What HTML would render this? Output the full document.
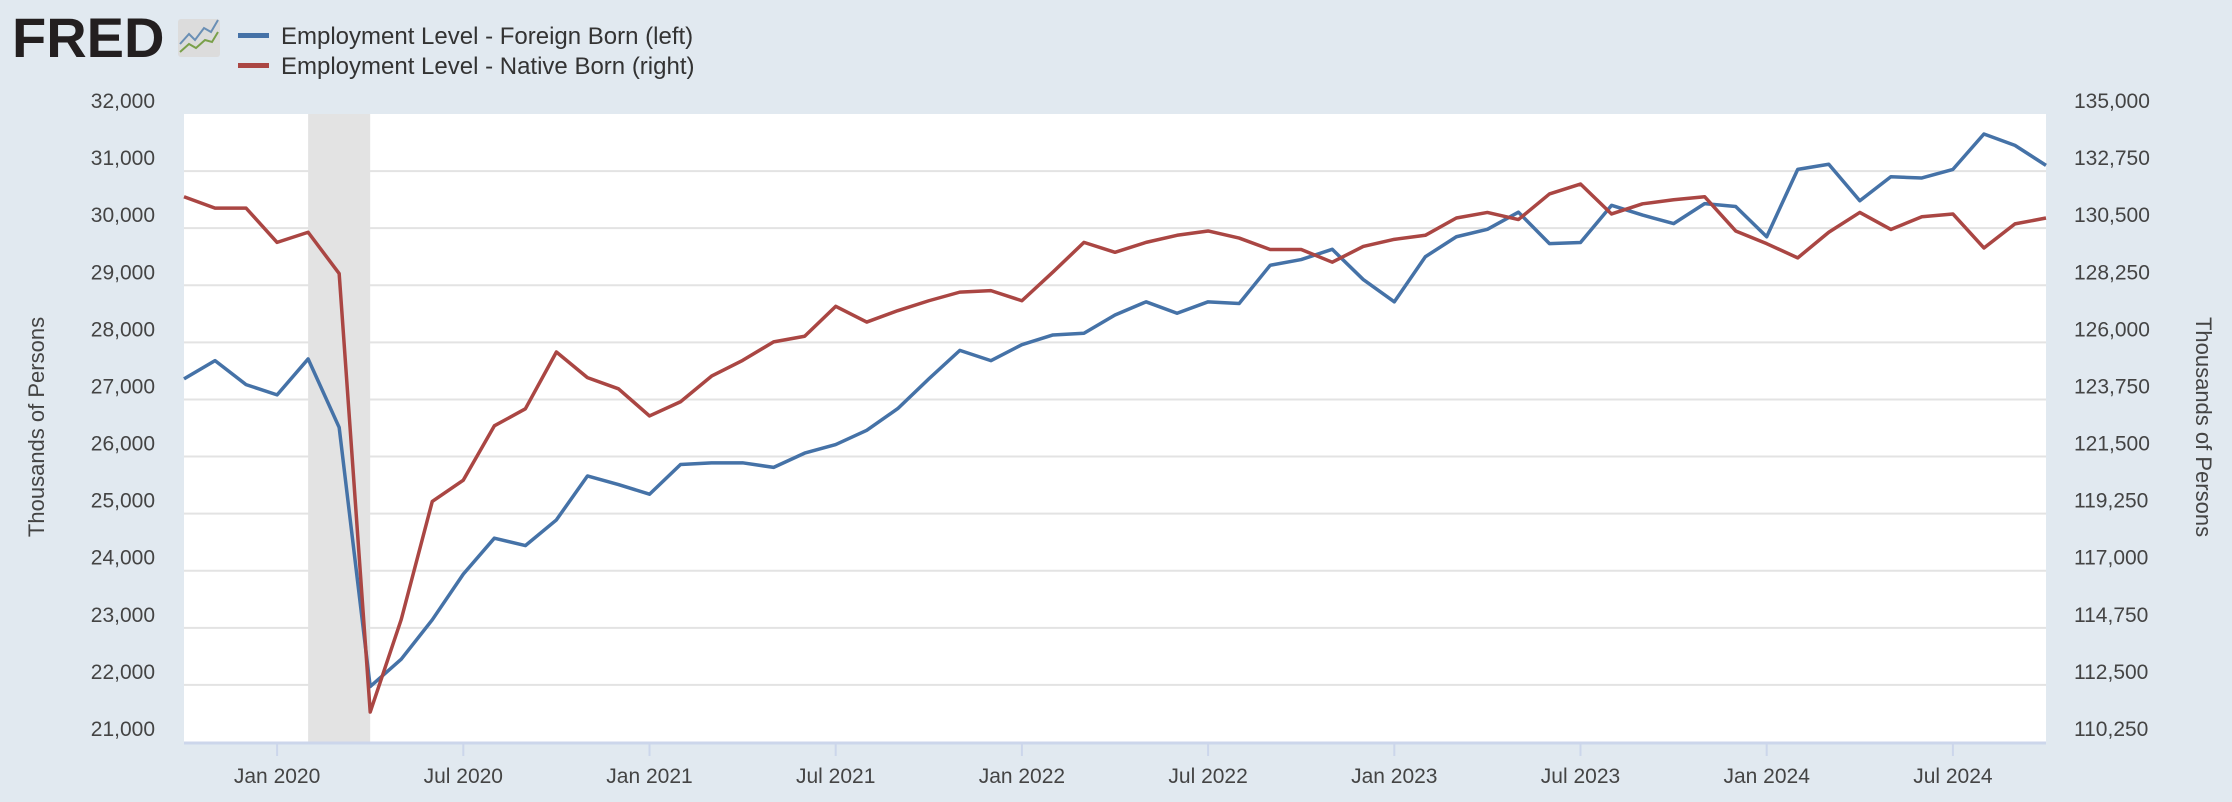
<!DOCTYPE html>
<html><head><meta charset="utf-8"><style>
html,body{margin:0;padding:0;background:#e1e9f0;}
svg{display:block;font-family:"Liberation Sans",sans-serif;}
</style></head><body>
<svg id="chart" width="2232" height="802" viewBox="0 0 2232 802">
<rect x="0" y="0" width="2232" height="802" fill="#e1e9f0"/>
<g>
<text x="12" y="57" font-size="56" font-weight="bold" fill="#231f20" letter-spacing="0">FRED</text>
<rect x="178" y="19" width="42" height="38" rx="3" fill="#dcdcdc"/>
<polyline points="180,44 189,34 195,40 204,28 211,32 218,20" fill="none" stroke="#6a8fb5" stroke-width="2"/>
<polyline points="180,52 189,44 196,48 205,40 212,42 218,32" fill="none" stroke="#7aa04a" stroke-width="2"/>
</g>
<g>
<rect x="238" y="33" width="31" height="5" fill="#4572a7"/>
<text x="281" y="44" font-size="24" fill="#333">Employment Level - Foreign Born (left)</text>
<rect x="238" y="63" width="31" height="5" fill="#aa4643"/>
<text x="281" y="74" font-size="24" fill="#333">Employment Level - Native Born (right)</text>
</g>
<rect x="184" y="114" width="1862" height="628" fill="#fff"/>
<g id="grid"></g>
<g id="recession"></g>
<g id="axes"></g>
<g id="series"></g>
<text transform="translate(44,427) rotate(-90)" text-anchor="middle" font-size="22" fill="#444">Thousands of Persons</text>
<text transform="translate(2196,427) rotate(90)" text-anchor="middle" font-size="22" fill="#444">Thousands of Persons</text>
</svg>
<script>
const startYear = 2019, startMonth = 9; // Oct 2019 (0-based month)
const foreignBorn = [27360,27680,27260,27080,27710,26510,21970,22450,23140,23940,24570,24440,24890,25660,25510,25340,25860,25890,25890,25810,26060,26210,26460,26840,27360,27860,27680,27960,28130,28160,28480,28710,28510,28710,28680,29350,29450,29630,29100,28710,29500,29850,29980,30280,29730,29750,30400,30230,30080,30430,30380,29850,31030,31120,30480,30900,30880,31030,31650,31450,31100];
const nativeBorn = [131740,131290,131290,129940,130340,128710,111430,115080,119730,120570,122710,123380,125620,124610,124170,123100,123660,124670,125290,126020,126240,127420,126800,127250,127640,127980,128040,127640,128770,129940,129550,129940,130220,130390,130110,129660,129660,129160,129780,130060,130220,130900,131120,130840,131850,132240,131060,131460,131620,131740,130390,129890,129330,130340,131120,130450,130950,131060,129720,130670,130900];
const leftTicks = [21000,22000,23000,24000,25000,26000,27000,28000,29000,30000,31000,32000];
const rightTicks = [110250,112500,114750,117000,119250,121500,123750,126000,128250,130500,132750,135000];
const xTickLabels = ["Jan 2020","Jul 2020","Jan 2021","Jul 2021","Jan 2022","Jul 2022","Jan 2023","Jul 2023","Jan 2024","Jul 2024"];
const xTickMonths = [3,9,15,21,27,33,39,45,51,57];
const recessionMonths = [4,6];

const X0=184, X1=2046, Y0=742, Y1=114;
const nPts = foreignBorn.length;
const x = m => X0 + m*(X1-X0)/(nPts-1);
const yL = v => Y0 - (v-21000)/(32000-21000)*(Y0-Y1);
const yR = v => Y0 - (v-110250)/(135000-110250)*(Y0-Y1);
const NS="http://www.w3.org/2000/svg";
function mk(tag, attrs, parent, txt){const e=document.createElementNS(NS,tag);for(const k in attrs)e.setAttribute(k,attrs[k]);if(txt!==undefined)e.textContent=txt;document.getElementById(parent).appendChild(e);return e;}

leftTicks.forEach((v,i)=>{
  if(i>0 && i<leftTicks.length-1){const g=mk('line',{x1:X0,x2:X1,y1:yL(v),y2:yL(v),stroke:'#e3e3e3','stroke-width':2},'grid');
  
  }
  const t=mk('text',{x:155,y:yL(v)-6,'text-anchor':'end','font-size':21,fill:'#444'},'axes',v.toLocaleString('en-US'));
  
  
});
rightTicks.forEach(v=>{
  const t=mk('text',{x:2074,y:yR(v)-6,'font-size':21,fill:'#444'},'axes',v.toLocaleString('en-US'));
  
  
});
const rec=mk('rect',{x:x(recessionMonths[0]),y:Y1,width:x(recessionMonths[1])-x(recessionMonths[0]),height:Y0-Y1,fill:'#e3e3e3'},'recession');


const ax=mk('line',{x1:X0,x2:X1,y1:Y0+1,y2:Y0+1,stroke:'#ccd6eb','stroke-width':3},'axes');


xTickMonths.forEach((m,i)=>{
  const tk=mk('line',{x1:x(m),x2:x(m),y1:Y0,y2:Y0+14,stroke:'#ccd6eb','stroke-width':2},'axes');
  
  
  const t=mk('text',{x:x(m),y:783,'text-anchor':'middle','font-size':21,fill:'#444'},'axes',xTickLabels[i]);
  
  
});
const pf=mk('polyline',{points:foreignBorn.map((v,i)=>x(i)+','+yL(v)).join(' '),fill:'none',stroke:'#4572a7','stroke-width':3.5,'stroke-linejoin':'round'},'series');


const pn=mk('polyline',{points:nativeBorn.map((v,i)=>x(i)+','+yR(v)).join(' '),fill:'none',stroke:'#aa4643','stroke-width':3.5,'stroke-linejoin':'round'},'series');


</script>
</body></html>
